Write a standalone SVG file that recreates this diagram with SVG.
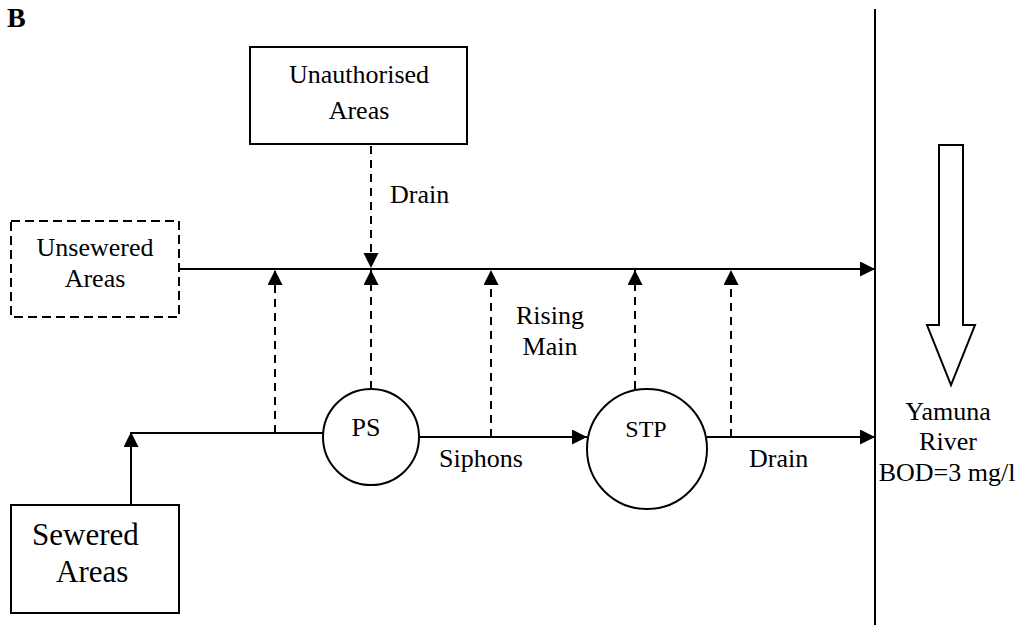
<svg xmlns="http://www.w3.org/2000/svg" width="1034" height="627" viewBox="0 0 1034 627">
<style>
text{font-family:"Liberation Serif","Times New Roman",serif;fill:#000;font-size:26px}
.c{text-anchor:middle}
.box{fill:#fff;stroke:#000;stroke-width:2}
.dbox{fill:#fff;stroke:#000;stroke-width:2;stroke-dasharray:9 5}
.ln{fill:none;stroke:#000;stroke-width:2}
.dl{fill:none;stroke:#000;stroke-width:2;stroke-dasharray:8 6}
</style>
<defs>
<marker id="ah" markerUnits="userSpaceOnUse" markerWidth="16" markerHeight="16" refX="15" refY="7.5" orient="auto">
<path d="M0,0 L15,7.5 L0,15 z" fill="#000"/>
</marker>
</defs>
<rect width="1034" height="627" fill="#fff"/>
<text x="7" y="27" style="font-weight:bold;font-size:28px">B</text>

<g id="connectors">
<line class="ln" x1="875" y1="9" x2="875" y2="625"/>
<line class="ln" x1="179" y1="269" x2="875" y2="269" marker-end="url(#ah)"/>
<line class="ln" x1="131" y1="505" x2="131" y2="432" marker-end="url(#ah)"/>
<line class="ln" x1="131" y1="433" x2="323" y2="433"/>
<line class="ln" x1="419" y1="437" x2="587" y2="437" marker-end="url(#ah)"/>
<line class="ln" x1="707" y1="437" x2="875" y2="437" marker-end="url(#ah)"/>
<line class="dl" x1="371" y1="146" x2="371" y2="268" marker-end="url(#ah)"/>
<line class="dl" x1="275" y1="433" x2="275" y2="270" marker-end="url(#ah)"/>
<line class="dl" x1="371" y1="389" x2="371" y2="270" marker-end="url(#ah)"/>
<line class="dl" x1="491" y1="437" x2="491" y2="270" marker-end="url(#ah)"/>
<line class="dl" x1="635" y1="389" x2="635" y2="270" marker-end="url(#ah)"/>
<line class="dl" x1="731" y1="437" x2="731" y2="270" marker-end="url(#ah)"/>
<text x="390" y="203">Drain</text>
<text class="c" x="550" y="324">Rising</text>
<text class="c" x="550" y="355">Main</text>
<text x="439" y="467">Siphons</text>
<text x="749" y="467">Drain</text>
</g>

<g id="unauthorised">
<rect class="box" x="250" y="47" width="217" height="97"/>
<text class="c" x="359" y="83">Unauthorised</text>
<text class="c" x="359" y="119">Areas</text>
</g>

<g id="unsewered">
<rect class="dbox" x="11" y="221" width="168" height="96"/>
<text class="c" x="95" y="256">Unsewered</text>
<text class="c" x="95" y="287">Areas</text>
</g>

<g id="sewered">
<rect class="box" x="11" y="505" width="168" height="108"/>
<text x="32" y="545" style="font-size:31px">Sewered</text>
<text x="56" y="582" style="font-size:31px">Areas</text>
</g>

<g id="ps">
<circle class="box" cx="371" cy="437" r="48"/>
<text class="c" x="366" y="436">PS</text>
</g>

<g id="stp">
<circle class="box" cx="647" cy="449" r="60"/>
<text class="c" x="646" y="437" style="font-size:24px">STP</text>
</g>

<g id="river">
<polygon class="box" points="939,145 963,145 963,325 975,325 951,385 927,325 939,325"/>
<text class="c" x="948" y="420">Yamuna</text>
<text class="c" x="948" y="450">River</text>
<text class="c" x="947" y="481">BOD=3 mg/l</text>
</g>
</svg>
